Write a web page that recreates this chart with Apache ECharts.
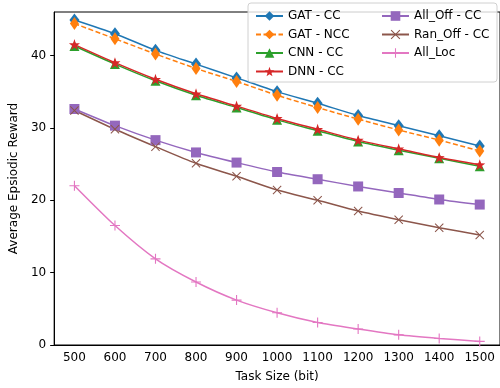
<!DOCTYPE html>
<html>
<head>
<meta charset="utf-8">
<script src="https://cdn.jsdelivr.net/npm/echarts@6/dist/echarts.min.js"></script>
<style>
  html, body { margin: 0; padding: 0; background: #fff; }
  #chart { width: 500px; height: 388px; }
</style>
</head>
<body>
<div id="chart"></div>
<script>
const taskSizes = ['500', '600', '700', '800', '900', '1000', '1100', '1200', '1300', '1400', '1500'];
const yTicks = [0, 10, 20, 30, 40];

const gatCC   = [44.9, 43.0, 40.7, 38.8, 36.9, 35.0, 33.4, 31.7, 30.3, 28.9, 27.5];
const gatNCC  = [44.4, 42.3, 40.2, 38.2, 36.4, 34.5, 32.8, 31.2, 29.7, 28.3, 26.8];
const cnnCC   = [41.3, 38.8, 36.5, 34.5, 32.8, 31.1, 29.6, 28.1, 26.9, 25.8, 24.7];
const dnnCC   = [41.5, 39.0, 36.7, 34.7, 33.0, 31.3, 29.8, 28.3, 27.1, 25.9, 24.9];
const allOff  = [32.6, 30.3, 28.3, 26.6, 25.2, 23.9, 22.9, 21.9, 21.0, 20.1, 19.4];
const ranOff  = [32.4, 29.8, 27.4, 25.1, 23.3, 21.4, 20.0, 18.5, 17.3, 16.2, 15.2];
const allLoc  = [22.0, 16.5, 11.9, 8.7, 6.2, 4.45, 3.1, 2.2, 1.4, 0.9, 0.5];

const FONT = 'DejaVu Sans';

// marker shapes (matplotlib-like)
const thinDiamond = 'path://M0,-6L3.6,0L0,6L-3.6,0Z';
const star = 'path://M0,-5L1.18,-1.62L4.76,-1.55L1.9,0.62L2.94,4.05L0,2L-2.94,4.05L-1.9,0.62L-4.76,-1.55L-1.18,-1.62Z';
const cross = 'path://M-5,-4.2L-4.2,-5L0,-0.8L4.2,-5L5,-4.2L0.8,0L5,4.2L4.2,5L0,0.8L-4.2,5L-5,4.2L-0.8,0Z';
const plus = 'path://M-0.55,-5H0.55V-0.55H5V0.55H0.55V5H-0.55V0.55H-5V-0.55H-0.55Z';

function line(name, data, color, symbol, size, dashed) {
  return {
    name: name,
    type: 'line',
    data: data,
    smooth: 0.25,
    symbol: symbol,
    symbolSize: size,
    showAllSymbol: true,
    itemStyle: { color: color },
    lineStyle: { color: color, width: 1.5, type: dashed ? [5, 2.5] : 'solid' },
    emphasis: { disabled: true }
  };
}

const chart = echarts.init(document.getElementById('chart'), null, { renderer: 'canvas' });

const legendCommon = {
  orient: 'vertical',
  itemWidth: 27,
  itemHeight: 12,
  itemGap: 6.5,
  textStyle: { fontFamily: FONT, fontSize: 12, color: '#000' }
};

chart.setOption({
  animation: false,
  grid: { left: 52, right: -4, top: 12, bottom: 42, show: true, borderColor: '#000', borderWidth: 1 },
  graphic: [{
    type: 'rect',
    shape: { x: 248, y: 3, width: 249, height: 79, r: 3 },
    style: { fill: 'rgba(255,255,255,0.8)', stroke: '#d0d0d0', lineWidth: 1 },
    z: 50
  }],
  legend: [
    Object.assign({ left: 250, top: 5, z: 60, data: ['GAT - CC', 'GAT - NCC', 'CNN - CC', 'DNN - CC'] }, legendCommon),
    Object.assign({ left: 376, top: 5, z: 60, data: ['All_Off - CC', 'Ran_Off - CC', 'All_Loc'] }, legendCommon)
  ],
  xAxis: {
    type: 'category',
    data: taskSizes,
    boundaryGap: true,
    name: 'Task Size (bit)',
    nameLocation: 'middle',
    nameGap: 26,
    nameTextStyle: { fontFamily: FONT, fontSize: 12, color: '#000' },
    axisLine: { lineStyle: { color: '#000', width: 1 } },
    axisTick: { alignWithLabel: true, length: 4, lineStyle: { color: '#000' } },
    axisLabel: { fontFamily: FONT, fontSize: 12, color: '#000', margin: 7 },
    splitLine: { show: false }
  },
  yAxis: {
    type: 'value',
    min: 0,
    max: 46,
    interval: 10,
    name: 'Average Epsiodic Reward',
    nameLocation: 'middle',
    nameGap: 28,
    nameTextStyle: { fontFamily: FONT, fontSize: 12, color: '#000' },
    axisLine: { show: true, lineStyle: { color: '#000', width: 1 } },
    axisTick: { show: true, length: 4, lineStyle: { color: '#000' } },
    axisLabel: {
      fontFamily: FONT, fontSize: 12, color: '#000', margin: 8,
      showMaxLabel: false,
      formatter: v => (yTicks.indexOf(v) >= 0 ? String(v) : '')
    },
    splitLine: { show: false }
  },
  series: [
    line('GAT - CC', gatCC, '#1f77b4', 'diamond', [10, 13], false),
    line('GAT - NCC', gatNCC, '#ff7f0e', thinDiamond, [9, 13], true),
    line('CNN - CC', cnnCC, '#2ca02c', 'triangle', 10, false),
    line('DNN - CC', dnnCC, '#d62728', star, 11, false),
    line('All_Off - CC', allOff, '#9467bd', 'rect', 10, false),
    line('Ran_Off - CC', ranOff, '#8c564b', cross, 9, false),
    line('All_Loc', allLoc, '#e377c2', plus, 10, false)
  ]
});
</script>
</body>
</html>
